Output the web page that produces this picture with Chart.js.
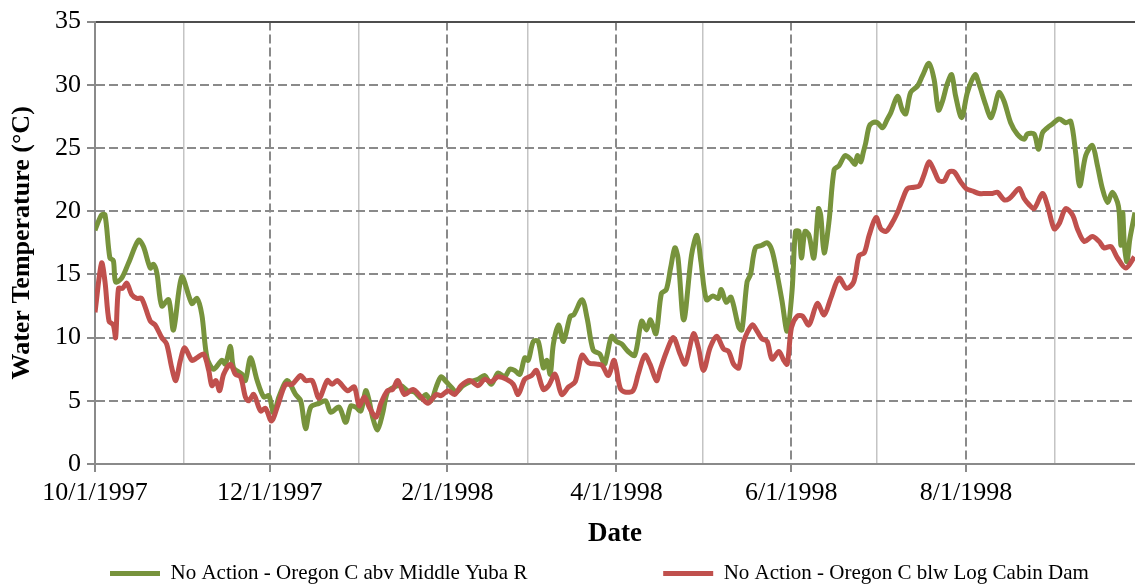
<!DOCTYPE html>
<html>
<head>
<meta charset="utf-8">
<title>Water Temperature - No Action</title>
<script src="https://cdn.jsdelivr.net/npm/chart.js@4/dist/chart.umd.min.js"></script>
<style>
  html, body { margin: 0; padding: 0; background: #fff; }
  #wrap { width: 1135px; height: 584px; }
</style>
</head>
<body>
<div id="wrap"><canvas id="myChart"></canvas></div>
<script>
'use strict';

// x values are days after 10/1/1997
const startDate = '10/1/1997';
const endDate = '9/29/1998';
const majorTickDates = ['10/1/1997', '12/1/1997', '2/1/1998', '4/1/1998', '6/1/1998', '8/1/1998'];
const minorTickDates = ['11/1/1997', '1/1/1998', '3/1/1998', '5/1/1998', '7/1/1998', '9/1/1998'];
const tempTicks = [0, 5, 10, 15, 20, 25, 30, 35];

const seriesNames = [
    'No Action - Oregon C abv Middle Yuba R',
    'No Action - Oregon C blw Log Cabin Dam'
];

const aboveDays = [
    0, 2.3, 3.5, 5.2, 6.4, 7.2, 9.3, 11.7, 15.2, 16.9, 19.3, 20.4, 21.6, 23.3, 25.7, 27.4, 30.3, 33.8, 35.6, 37.3,
    39.1, 41.4, 44.3, 45.5, 47.3, 48.4, 51.3, 52.5, 54.3, 56.6, 58.9, 60.7, 62.4, 64.2, 67.1, 70, 71.8, 73.5, 75.3, 78.2,
    80.5, 82.3, 85.2, 87.5, 89.3, 91, 92.8, 94.5, 95.7, 96.9, 98.6, 100.4, 102.1, 104.5, 106.8, 109.1, 111.5, 113.8, 115.5, 117.3,
    119.1, 120.8, 122.6, 124.3, 126.1, 128.4, 130.8, 133.7, 136, 138.3, 140.7, 143, 144.8, 146.5, 148.3, 150, 151.2, 153, 154.7, 156.5,
    157.7, 158.9, 160, 161.8, 163.5, 165.9, 167.1, 170, 171.8, 173.9, 176.2, 177.8, 178.7, 180.3, 182, 183.8, 186.1, 188.4, 190.8, 192.5,
    193.9, 195.8, 197.7, 199.4, 200.9, 202.4, 203.5, 205.5, 208.2, 210.1, 211.5, 213.4, 215.7, 217.5, 218.6, 220.3, 222, 224.7, 225.8, 227.6,
    228.8, 230.5, 232.8, 234.6, 236.3, 238.1, 239.8, 241.6, 243.3, 244.5, 245.7, 246.6, 247.8, 249.2, 250.9, 252.5, 253.3, 254.5, 256.2, 258,
    259.7, 261.8, 263.8, 265.3, 266.1, 267.3, 268.1, 269, 270.2, 271.4, 273.1, 274.9, 276.6, 277.8, 280.1, 281.8, 283, 284.7, 287.1, 288.8,
    291.1, 292.9, 294.4, 295.8, 297.5, 299, 300.4, 302.5, 304.5, 307.2, 308.5, 310.9, 312.6, 313.8, 315.5, 317.3, 319.6, 321.9, 324.3, 325.4,
    327.8, 329.3, 330.7, 332.4, 334.2, 336.5, 338.8, 340.6, 342.3, 343.7, 345.8, 348.1, 349.9, 351.6, 353.4, 355.1, 356.9, 357.5, 358.1, 358.7,
    359.3, 360.2, 361.2, 363
];
const aboveTemps = [
    18.5, 19.7, 19.7, 16.3, 16.1, 14.4, 14.7, 15.9, 17.7, 17.2, 15.5, 15.8, 15.1, 12.5, 13.0, 10.6, 14.8, 12.7, 13.1, 11.8,
    8.4, 7.5, 8.2, 7.9, 9.3, 7.6, 7.1, 6.6, 8.4, 6.6, 5.3, 5.4, 4.0, 5.3, 6.6, 5.5, 5.0, 2.8, 4.5, 4.8,
    5.0, 4.1, 4.5, 3.3, 4.6, 4.5, 4.2, 5.8, 5.0, 3.7, 2.7, 4.0, 5.7, 6.1, 6.2, 5.8, 5.7, 5.2, 5.5, 5.0,
    6.1, 6.9, 6.5, 6.1, 5.7, 6.2, 6.5, 6.7, 7.0, 6.3, 7.2, 6.9, 7.5, 7.4, 7.1, 8.4, 8.2, 9.7, 9.7, 7.6,
    8.2, 7.1, 9.5, 11.0, 9.7, 11.7, 11.8, 13.0, 11.5, 9.0, 8.7, 7.9, 8.6, 10.1, 9.7, 9.5, 8.9, 8.6, 11.3, 10.6,
    11.4, 10.3, 13.5, 13.8, 15.5, 17.1, 16.3, 11.4, 16.5, 18.1, 16.0, 13.0, 13.3, 13.1, 13.8, 12.8, 13.2, 10.8, 10.6, 14.4,
    15.0, 17.1, 17.3, 17.5, 16.9, 15.0, 12.9, 10.5, 13.7, 18.4, 18.4, 16.3, 18.4, 18.1, 16.3, 20.2, 19.7, 16.7, 19.2, 23.3,
    23.6, 24.4, 24.1, 23.7, 24.4, 23.9, 24.6, 25.4, 26.7, 27.0, 27.0, 26.6, 27.3, 27.8, 29.1, 28.0, 27.7, 29.4, 29.9, 30.7,
    31.7, 30.4, 28.0, 28.7, 30.1, 30.8, 29.1, 27.4, 29.4, 30.8, 30.1, 28.4, 27.4, 28.0, 29.4, 28.7, 27.0, 26.1, 25.7, 26.1,
    26.1, 24.9, 26.2, 26.6, 26.9, 27.3, 27.0, 27.1, 24.6, 22.0, 24.4, 25.2, 23.6, 21.8, 20.7, 21.5, 20.7, 19.9, 17.3, 19.9,
    17.3, 16.0, 17.8, 19.9
];

const belowDays = [
    0, 2.3, 3.5, 4.9, 6.4, 7.2, 8.2, 9.6, 11.1, 12.8, 14.6, 16.3, 19.3, 21, 23.3, 25, 26.8, 28.2, 29.8, 31.3,
    33.8, 35.6, 37.9, 39.7, 40.8, 42.2, 43.5, 44.9, 47.3, 49, 50.8, 52.5, 53.7, 55.4, 57.8, 59.5, 61.6, 63.6, 66.5, 68.8,
    71.8, 73.5, 75.8, 78.2, 81.1, 82.8, 84.6, 88.1, 90.5, 92.2, 94, 95.7, 98.1, 99.8, 102.1, 103.9, 105.7, 108, 111, 113.8,
    116.2, 119.1, 120.8, 123.2, 125.5, 127.8, 130.8, 133.7, 136, 138.3, 140.7, 143.6, 146, 147.7, 150, 152.4, 154.1, 156.5, 158.3, 160.6,
    162.9, 165.3, 167.6, 170, 172.3, 175.2, 177, 179.2, 181.2, 183.3, 184.9, 187.8, 189.6, 191.9, 193.7, 196, 197.2, 199.5, 201.9, 204.2,
    206, 208.9, 210.6, 212.4, 214.7, 217, 219.4, 221.2, 222.9, 224.7, 226.4, 229.4, 231.1, 232.8, 234.6, 236.3, 238.7, 240.4, 241.6, 243.1,
    245.1, 246.9, 249.2, 252.1, 254.5, 256.8, 259.7, 262.3, 264.8, 266.7, 268.5, 270.2, 272.6, 274.3, 276.1, 277.8, 280.1, 281.8, 283.6, 285.9,
    287.7, 289.4, 291.1, 292.9, 294.6, 296.4, 298.1, 299.9, 302.2, 304, 306.3, 308.6, 310.9, 313.3, 315, 317.3, 319.1, 320.8, 322.6, 324.3,
    326.1, 327.8, 330.7, 332.4, 334.8, 336.5, 338.8, 341.2, 342.9, 345.3, 348.1, 350.5, 352.2, 354.6, 356.9, 359.8, 362.8
];
const belowTemps = [
    12.0, 15.9, 14.4, 11.3, 11.0, 10.0, 13.9, 13.9, 14.3, 13.4, 13.1, 13.1, 11.3, 11.0, 10.0, 9.5, 7.6, 6.6, 8.2, 9.2,
    8.2, 8.4, 8.7, 7.4, 6.2, 6.6, 5.8, 7.1, 7.9, 7.1, 6.9, 5.3, 5.0, 5.5, 4.2, 4.4, 3.4, 4.5, 6.3, 6.3,
    7.0, 6.6, 6.6, 5.2, 6.6, 6.3, 6.6, 5.8, 6.1, 4.6, 5.3, 4.5, 3.7, 4.8, 5.8, 5.9, 6.6, 5.5, 5.9, 5.3,
    4.8, 5.5, 5.4, 5.8, 5.5, 6.2, 6.6, 6.2, 6.7, 6.5, 6.9, 6.7, 6.3, 5.5, 6.7, 7.0, 7.4, 5.9, 6.2, 7.1,
    5.5, 6.1, 6.5, 8.6, 8.0, 7.9, 7.8, 7.0, 8.2, 6.0, 5.7, 5.8, 7.1, 8.6, 7.9, 6.6, 7.4, 8.9, 10.0, 8.7,
    7.9, 10.3, 9.2, 7.4, 9.2, 10.1, 9.1, 8.9, 7.9, 7.6, 9.7, 11.0, 10.5, 9.9, 9.7, 8.3, 8.9, 8.2, 7.9, 10.8,
    11.7, 11.7, 11.0, 12.7, 11.8, 13.1, 14.7, 13.9, 14.4, 16.5, 16.7, 18.1, 19.5, 18.6, 18.4, 18.9, 19.9, 20.9, 21.8, 21.9,
    22.0, 22.9, 23.9, 23.2, 22.4, 22.4, 23.1, 23.1, 22.3, 21.8, 21.6, 21.4, 21.4, 21.4, 21.5, 20.9, 21.0, 21.4, 21.8, 21.0,
    20.5, 20.2, 21.4, 20.5, 18.6, 19.0, 20.2, 19.7, 18.6, 17.6, 18.0, 17.6, 17.1, 17.2, 16.3, 15.5, 16.4
];

const serif = "'Liberation Serif', 'Times New Roman', serif";
const axisGray = '#8a8a8a';

function dayOf(str) {
    const [m, d, y] = str.split('/').map(Number);
    const [m0, d0, y0] = startDate.split('/').map(Number);
    return (Date.UTC(y, m - 1, d) - Date.UTC(y0, m0 - 1, d0)) / 86400000;
}

function toPoints(days, temps) {
    return days.map((d, i) => ({ x: d, y: temps[i] }));
}

function createChart() {
    const ctx = document.getElementById('myChart').getContext('2d');
    const majorDays = majorTickDates.map(dayOf);
    const minorDays = minorTickDates.map(dayOf);
    const allTickDays = majorDays.concat(minorDays).sort((a, b) => a - b);
    const isMajor = c => c.tick !== undefined && majorDays.includes(c.tick.value);

    new Chart(ctx, {
        type: 'line',
        data: {
            datasets: [{
                label: seriesNames[0],
                data: toPoints(aboveDays, aboveTemps),
                borderColor: '#77933C',
                backgroundColor: '#77933C',
                borderWidth: 5,
                pointRadius: 0,
                tension: 0.3,
                order: 1
            }, {
                label: seriesNames[1],
                data: toPoints(belowDays, belowTemps),
                borderColor: '#C0504D',
                backgroundColor: '#C0504D',
                borderWidth: 5,
                pointRadius: 0,
                tension: 0.3,
                order: 0
            }]
        },
        options: {
            responsive: true,
            maintainAspectRatio: false,
            animation: false,
            layout: { padding: { top: 18, left: 0, right: 0, bottom: 0 } },
            plugins: {
                tooltip: { enabled: false },
                legend: {
                    position: 'bottom',
                    align: 'start',
                    fullSize: false,
                    maxHeight: 36,
                    labels: {
                        boxWidth: 50,
                        boxHeight: 5,
                        padding: 15,
                        color: '#000',
                        font: { family: serif, size: 21 },
                        // trailing spaces open the wide gap between the two entries
                        generateLabels: chart => chart.data.datasets.map((ds, i) => ({
                            text: i === 0 ? ds.label + ' '.repeat(23) : ds.label,
                            fillStyle: ds.borderColor,
                            strokeStyle: ds.borderColor,
                            lineWidth: 0,
                            hidden: false,
                            datasetIndex: i
                        }))
                    }
                }
            },
            scales: {
                x: {
                    type: 'linear',
                    min: 0,
                    max: dayOf(endDate),
                    afterBuildTicks: scale => {
                        scale.ticks = allTickDays.map(v => ({ value: v }));
                    },
                    afterFit: scale => { scale.height = 84; },
                    ticks: {
                        autoSkip: false,
                        maxRotation: 0,
                        padding: 6,
                        color: '#000',
                        font: { family: serif, size: 26 },
                        callback: v => {
                            const i = majorDays.indexOf(v);
                            return i >= 0 ? majorTickDates[i] : '';
                        }
                    },
                    grid: {
                        color: c => isMajor(c) ? axisGray : '#c4c4c4',
                        lineWidth: c => isMajor(c) ? 2 : 1.5,
                        tickLength: 8,
                        tickWidth: 2,
                        tickColor: c => isMajor(c) ? axisGray : 'rgba(0,0,0,0)'
                    },
                    border: {
                        color: axisGray,
                        width: 2,
                        dash: c => isMajor(c) ? [9, 4] : []
                    },
                    title: {
                        display: true,
                        text: 'Date',
                        color: '#000',
                        font: { family: serif, size: 27, weight: 'bold', lineHeight: 1 },
                        padding: 0
                    }
                },
                y: {
                    min: 0,
                    max: 35,
                    afterBuildTicks: scale => {
                        scale.ticks = tempTicks.map(v => ({ value: v }));
                    },
                    afterFit: scale => { scale.width = 95; },
                    ticks: {
                        padding: 6,
                        color: '#000',
                        font: { family: serif, size: 26 }
                    },
                    grid: {
                        color: c => c.tick && c.tick.value === 35 ? '#4d4d4d' : axisGray,
                        lineWidth: 2,
                        tickLength: 8,
                        tickWidth: 2,
                        tickColor: axisGray
                    },
                    border: {
                        color: axisGray,
                        width: 2,
                        dash: c => c.tick && c.tick.value === 35 ? [] : [9, 4]
                    },
                    title: {
                        display: true,
                        text: 'Water Temperature (°C)',
                        color: '#000',
                        font: { family: serif, size: 26, weight: 'bold' },
                        padding: { top: 7, bottom: 0 }
                    }
                }
            }
        }
    });
}

createChart();
</script>
</body>
</html>
